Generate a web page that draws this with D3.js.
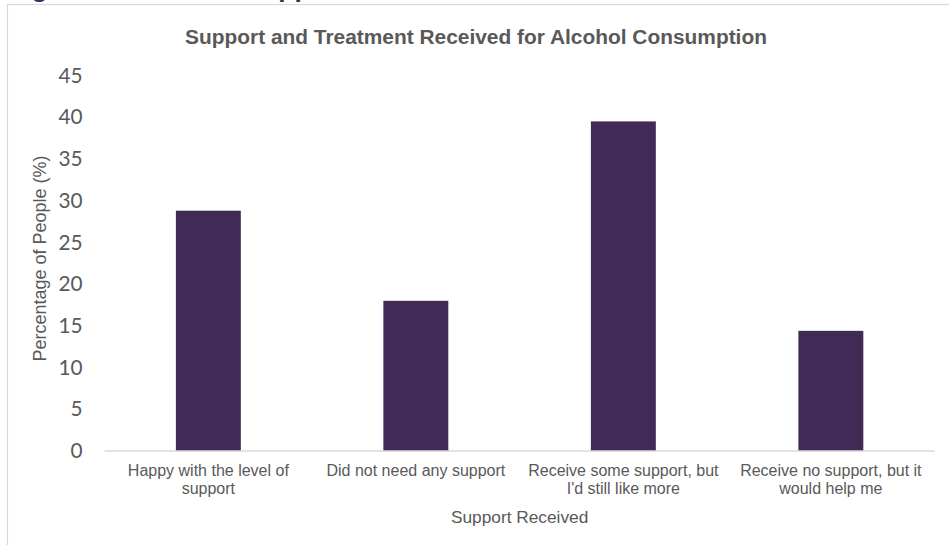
<!DOCTYPE html>
<html>
<head>
<meta charset="utf-8">
<script src="https://cdn.jsdelivr.net/npm/d3@7"></script>
<style>
  html, body { margin: 0; padding: 0; background: #ffffff; }
  svg { display: block; }
</style>
</head>
<body>
<svg id="chart" width="949" height="545"></svg>
<script>
// Survey responses: support and treatment received for alcohol consumption
const categories = [
  "Happy with the level of support",
  "Did not need any support",
  "Receive some support, but I'd still like more",
  "Receive no support, but it would help me"
];
const percentages = [28.8, 18.0, 39.5, 14.4];
const yTicks = [0, 5, 10, 15, 20, 25, 30, 35, 40, 45];

const chartTitle = "Support and Treatment Received for Alcohol Consumption";
const xTitle = "Support Received";
const yTitle = "Percentage of People (%)";
const figureHeading = "Figure 13: Alcohol Support";

const svg = d3.select("#chart");
const textGrey = "#595959";
const barColour = "#402b56";
const sansFont = "'Liberation Sans', Arial, sans-serif";
const tickFont = "Lato, 'Open Sans', sans-serif";

const plot = { left: 104.6, right: 934.6, top: 75.5, bottom: 451 };

// Document heading above the chart frame (only its descenders fall on the page)
svg.append("text")
  .attr("x", 8)
  .attr("y", -3)
  .attr("font-family", sansFont)
  .attr("font-weight", "bold")
  .attr("font-size", 26.4)
  .attr("fill", barColour)
  .text(figureHeading);

// Chart frame
svg.append("rect")
  .attr("x", 7.5)
  .attr("y", 4.5)
  .attr("width", 1000)
  .attr("height", 600)
  .attr("fill", "#ffffff")
  .attr("stroke", "#d9d9d9")
  .attr("stroke-width", 1.2);

const x = d3.scaleBand()
  .domain(categories)
  .range([plot.left, plot.right])
  .paddingInner(0.687)
  .paddingOuter(0.3435);

const y = d3.scaleLinear()
  .domain([0, 45])
  .range([plot.bottom, plot.top]);

// Title
svg.append("text")
  .attr("x", 476)
  .attr("y", 44)
  .attr("text-anchor", "middle")
  .attr("font-family", sansFont)
  .attr("font-weight", "bold")
  .attr("font-size", 20.9)
  .attr("fill", textGrey)
  .text(chartTitle);

// Bars
svg.append("g")
  .selectAll("rect")
  .data(categories)
  .join("rect")
  .attr("x", d => x(d))
  .attr("y", (d, i) => y(percentages[i]))
  .attr("width", x.bandwidth())
  .attr("height", (d, i) => y(0) - y(percentages[i]))
  .attr("fill", barColour);

// Y axis (labels only, no line)
const yAxis = svg.append("g")
  .attr("transform", `translate(${plot.left},0)`)
  .call(d3.axisLeft(y).tickValues(yTicks).tickSize(0).tickPadding(22));
yAxis.select(".domain").remove();
yAxis.selectAll("text")
  .attr("font-family", tickFont)
  .attr("font-size", 20.8)
  .attr("fill", textGrey);

// X axis baseline
svg.append("line")
  .attr("x1", plot.left)
  .attr("x2", plot.right)
  .attr("y1", y(0))
  .attr("y2", y(0))
  .attr("stroke", "#d9d9d9")
  .attr("stroke-width", 1.5);

// Category labels, wrapped to fit under each bar slot
const xAxis = svg.append("g")
  .attr("transform", `translate(0,${y(0)})`)
  .call(d3.axisBottom(x).tickSize(0).tickPadding(0));
xAxis.select(".domain").remove();

const maxLabelWidth = 200;
xAxis.selectAll(".tick text")
  .attr("font-family", sansFont)
  .attr("font-size", 16)
  .attr("fill", textGrey)
  .each(function(d) {
    const t = d3.select(this);
    const words = d.split(" ");
    t.text(null).attr("y", 0).attr("dy", null);
    const lines = [];
    let line = [];
    const probe = t.append("tspan");
    for (const w of words) {
      line.push(w);
      probe.text(line.join(" "));
      if (probe.node().getComputedTextLength() > maxLabelWidth && line.length > 1) {
        line.pop();
        lines.push(line.join(" "));
        line = [w];
      }
    }
    lines.push(line.join(" "));
    probe.remove();
    lines.forEach((l, i) => {
      t.append("tspan")
        .attr("x", 0)
        .attr("y", 24.7 + i * 18.7)
        .text(l);
    });
  });

// Axis titles
svg.append("text")
  .attr("x", (plot.left + plot.right) / 2)
  .attr("y", 523)
  .attr("text-anchor", "middle")
  .attr("font-family", sansFont)
  .attr("font-size", 17.3)
  .attr("fill", textGrey)
  .text(xTitle);

svg.append("text")
  .attr("transform", "translate(45.5,258.5) rotate(-90)")
  .attr("text-anchor", "middle")
  .attr("font-family", sansFont)
  .attr("font-size", 18)
  .attr("fill", textGrey)
  .text(yTitle);
</script>
</body>
</html>
